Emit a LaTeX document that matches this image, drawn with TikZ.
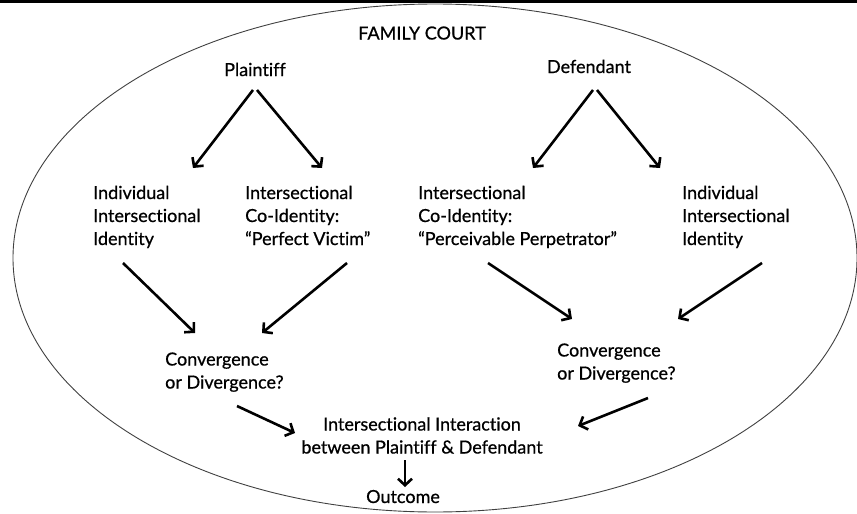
\documentclass[tikz,border=0pt]{standalone}
\usepackage{fontspec}
\setmainfont{Lato}[FakeBold=0.7, Ligatures={NoCommon}]
\usetikzlibrary{arrows.meta}
\begin{document}
\begin{tikzpicture}[x=1pt,y=-1pt,
  lbl/.style={inner sep=0pt, align=left, font=\fontsize{18}{23}\selectfont},
  arr/.style={line width=2.6pt, -{Straight Barb[length=6.5pt,width=14pt]}},
  ring/.style={line width=0.9pt, draw=black!75}]
\useasboundingbox (0,0) rectangle (857,514);
\draw[line width=2.6pt] (0,1.5) -- (857,1.5);
\draw[ring] (435,258) ellipse [x radius=422, y radius=254];
% labels (base anchor = baseline of last line)
\node[lbl, anchor=base] (court) at (422,39.5) {FAMILY COURT};
\node[lbl, anchor=base] (plaintiff) at (255,76) {Plaintiff};
\node[lbl, anchor=base] (defendant) at (589,73) {Defendant};
\node[lbl, anchor=base west] (pind) at (93,245) {Individual\\Intersectional\\Identity};
\node[lbl, anchor=base west] (pco) at (245,245) {Intersectional\\Co-Identity:\\“Perfect Victim”};
\node[lbl, anchor=base west] (dco) at (418,245) {Intersectional\\Co-Identity:\\“Perceivable Perpetrator”};
\node[lbl, anchor=base west] (dind) at (682,245) {Individual\\Intersectional\\Identity};
\node[lbl, anchor=base west] (pconv) at (165,388.5) {Convergence\\or Divergence?};
\node[lbl, anchor=base west] (dconv) at (557,379.5) {Convergence\\or Divergence?};
\node[lbl, anchor=base, align=center] (inter) at (422,453.5) {Intersectional Interaction\\between Plaintiff \& Defendant};
\node[lbl, anchor=base] (outcome) at (403,503) {Outcome};
% arrow end points
\coordinate (p0l) at (253,90); \coordinate (p0r) at (257,90);
\coordinate (d0l) at (593,90); \coordinate (d0r) at (597,90);
\coordinate (pindT) at (193,168); \coordinate (pcoT) at (322,168);
\coordinate (dcoT) at (533,168); \coordinate (dindT) at (660,168);
\coordinate (pindB) at (123,263); \coordinate (pcoB) at (347,263);
\coordinate (dcoB) at (488,263); \coordinate (dindB) at (762,263);
\coordinate (pconvT1) at (195,333); \coordinate (pconvT2) at (262,333);
\coordinate (dconvT1) at (572,319); \coordinate (dconvT2) at (678,319);
\coordinate (pconvB) at (237,406); \coordinate (dconvB) at (648,398);
\coordinate (interL) at (295,433); \coordinate (interR) at (578,426);
\coordinate (interB) at (405,460); \coordinate (outT) at (405,487);
% arrows
\draw[arr] (p0l) -- (pindT);
\draw[arr] (p0r) -- (pcoT);
\draw[arr] (d0l) -- (dcoT);
\draw[arr] (d0r) -- (dindT);
\draw[arr] (pindB) -- (pconvT1);
\draw[arr] (pcoB) -- (pconvT2);
\draw[arr] (dcoB) -- (dconvT1);
\draw[arr] (dindB) -- (dconvT2);
\draw[arr] (pconvB) -- (interL);
\draw[arr] (dconvB) -- (interR);
\draw[arr] (interB) -- (outT);
\end{tikzpicture}
\end{document}
